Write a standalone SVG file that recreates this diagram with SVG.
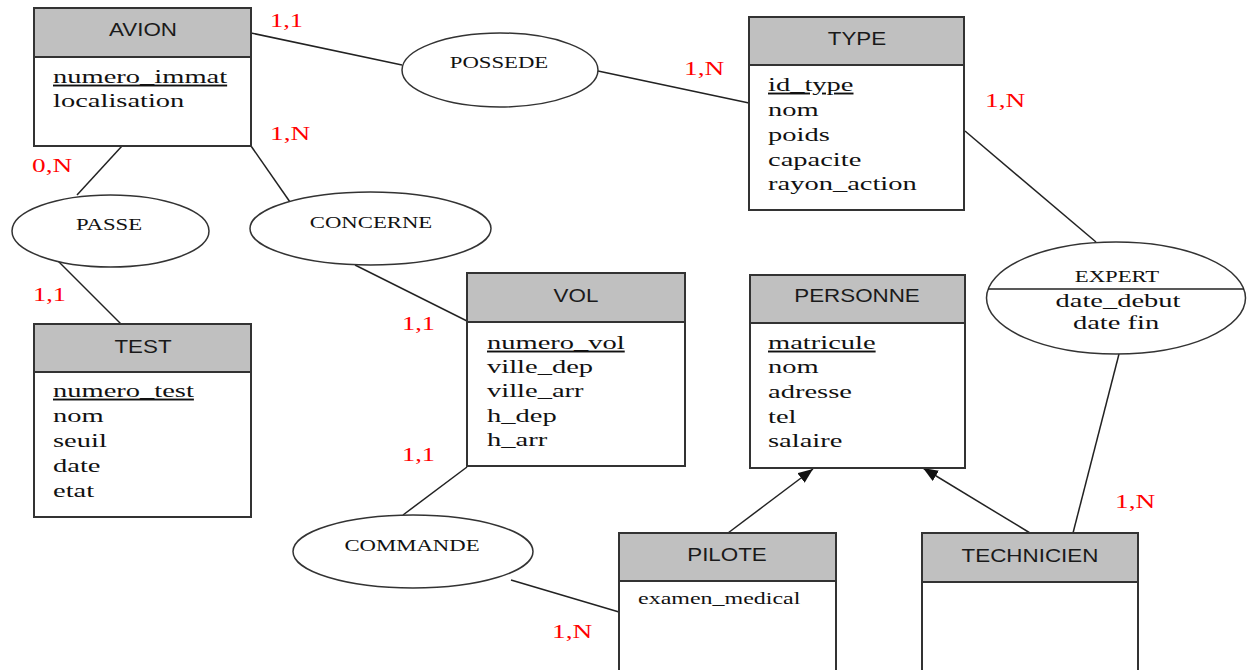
<svg xmlns="http://www.w3.org/2000/svg" width="1247" height="670" viewBox="0 0 1247 670">
<style>
.box{fill:#fff;stroke:#333;stroke-width:2}
.hdr{fill:#c0c0c0;stroke:#333;stroke-width:2}
.ell{fill:#fff;stroke:#333;stroke-width:1.5}
.ln{stroke:#222;stroke-width:1.5;fill:none}
.t{font-family:"Liberation Sans",Arial,sans-serif;font-size:17.5px;fill:#1a1a1a;text-anchor:middle}
.a{font-family:"Liberation Serif","Times New Roman",serif;font-size:19px;fill:#111}
.s{font-family:"Liberation Serif","Times New Roman",serif;font-size:16px;fill:#111}
.k{text-decoration:underline}
.e{font-family:"Liberation Serif","Times New Roman",serif;font-size:16.6px;fill:#111;text-anchor:middle}
.em{font-family:"Liberation Serif","Times New Roman",serif;font-size:19px;fill:#111;text-anchor:middle}
.r{font-family:"Liberation Serif","Times New Roman",serif;font-size:19.5px;fill:#ff0000}
</style>
<defs>
<marker id="arr" markerUnits="userSpaceOnUse" markerWidth="16" markerHeight="14" refX="15" refY="6" orient="auto">
<path d="M0,0 L15,6 L0,12 Z" fill="#111"/>
</marker>
</defs>

<g id="connectors">
<line class="ln" x1="251" y1="33" x2="402" y2="65"/>
<line class="ln" x1="598" y1="71" x2="749" y2="103"/>
<line class="ln" x1="122" y1="146" x2="77" y2="195"/>
<line class="ln" x1="57" y1="260" x2="121" y2="324"/>
<line class="ln" x1="251" y1="146" x2="290" y2="202"/>
<line class="ln" x1="355" y1="265" x2="467" y2="321"/>
<line class="ln" x1="467" y1="467" x2="403" y2="515"/>
<line class="ln" x1="511" y1="580" x2="619" y2="612"/>
<line class="ln" x1="965" y1="131" x2="1096" y2="242"/>
<line class="ln" x1="1119" y1="354" x2="1073" y2="533"/>
<line class="ln" x1="728" y1="533" x2="813" y2="469" marker-end="url(#arr)"/>
<line class="ln" x1="1030" y1="533" x2="923" y2="468" marker-end="url(#arr)"/>
</g>

<g id="labels">
<text class="r" transform="translate(270,27) scale(1.35,1)">1,1</text>
<text class="r" transform="translate(684,75) scale(1.4,1)">1,N</text>
<text class="r" transform="translate(270,140) scale(1.4,1)">1,N</text>
<text class="r" transform="translate(32,172) scale(1.4,1)">0,N</text>
<text class="r" transform="translate(33,301) scale(1.35,1)">1,1</text>
<text class="r" transform="translate(402,330) scale(1.35,1)">1,1</text>
<text class="r" transform="translate(402,461) scale(1.35,1)">1,1</text>
<text class="r" transform="translate(552,638) scale(1.4,1)">1,N</text>
<text class="r" transform="translate(985,107) scale(1.4,1)">1,N</text>
<text class="r" transform="translate(1115,508) scale(1.4,1)">1,N</text>
</g>

<g id="avion">
<rect class="box" x="34" y="8" width="217" height="138"/>
<rect class="hdr" x="34" y="8" width="217" height="49"/>
<text class="t" transform="translate(143,36) scale(1.28,1)">AVION</text>
<text class="a k" transform="translate(53,83) scale(1.5,1)">numero_immat</text>
<text class="a" transform="translate(53,107) scale(1.5,1)">localisation</text>
</g>

<g id="type">
<rect class="box" x="749" y="17" width="215" height="193"/>
<rect class="hdr" x="749" y="17" width="215" height="48"/>
<text class="t" transform="translate(857,45) scale(1.28,1)">TYPE</text>
<text class="a k" transform="translate(768,91) scale(1.5,1)">id_type</text>
<text class="a" transform="translate(768,116) scale(1.5,1)">nom</text>
<text class="a" transform="translate(768,141) scale(1.5,1)">poids</text>
<text class="a" transform="translate(768,166) scale(1.5,1)">capacite</text>
<text class="a" transform="translate(768,190) scale(1.5,1)">rayon_action</text>
</g>

<g id="test">
<rect class="box" x="34" y="324" width="217" height="193"/>
<rect class="hdr" x="34" y="324" width="217" height="48"/>
<text class="t" transform="translate(143,353) scale(1.28,1)">TEST</text>
<text class="a k" transform="translate(53,397) scale(1.5,1)">numero_test</text>
<text class="a" transform="translate(53,422) scale(1.5,1)">nom</text>
<text class="a" transform="translate(53,447) scale(1.5,1)">seuil</text>
<text class="a" transform="translate(53,472) scale(1.5,1)">date</text>
<text class="a" transform="translate(53,497) scale(1.5,1)">etat</text>
</g>

<g id="vol">
<rect class="box" x="467" y="273" width="218" height="193"/>
<rect class="hdr" x="467" y="273" width="218" height="49"/>
<text class="t" transform="translate(576,302) scale(1.28,1)">VOL</text>
<text class="a k" transform="translate(487,349) scale(1.5,1)">numero_vol</text>
<text class="a" transform="translate(487,373) scale(1.5,1)">ville_dep</text>
<text class="a" transform="translate(487,397) scale(1.5,1)">ville_arr</text>
<text class="a" transform="translate(487,422) scale(1.5,1)">h_dep</text>
<text class="a" transform="translate(487,446) scale(1.5,1)">h_arr</text>
</g>

<g id="personne">
<rect class="box" x="750" y="275" width="215" height="193"/>
<rect class="hdr" x="750" y="275" width="215" height="48"/>
<text class="t" transform="translate(857,302) scale(1.28,1)">PERSONNE</text>
<text class="a k" transform="translate(768,349) scale(1.5,1)">matricule</text>
<text class="a" transform="translate(768,373) scale(1.5,1)">nom</text>
<text class="a" transform="translate(768,398) scale(1.5,1)">adresse</text>
<text class="a" transform="translate(768,423) scale(1.5,1)">tel</text>
<text class="a" transform="translate(768,447) scale(1.5,1)">salaire</text>
</g>

<g id="pilote">
<rect class="box" x="619" y="533" width="217" height="150"/>
<rect class="hdr" x="619" y="533" width="217" height="48"/>
<text class="t" transform="translate(727,561) scale(1.28,1)">PILOTE</text>
<text class="s" transform="translate(638,604) scale(1.5,1)">examen_medical</text>
</g>

<g id="technicien">
<rect class="box" x="922" y="533" width="216" height="150"/>
<rect class="hdr" x="922" y="533" width="216" height="49"/>
<text class="t" transform="translate(1030,562) scale(1.28,1)">TECHNICIEN</text>
</g>

<g id="possede">
<ellipse class="ell" cx="500" cy="70" rx="98" ry="37"/>
<text class="e" transform="translate(499,68) scale(1.37,1)">POSSEDE</text>
</g>

<g id="passe">
<ellipse class="ell" cx="110.5" cy="231" rx="98.5" ry="36"/>
<text class="e" transform="translate(109,230) scale(1.37,1)">PASSE</text>
</g>

<g id="concerne">
<ellipse class="ell" cx="370.5" cy="228.5" rx="120.5" ry="36.5"/>
<text class="e" transform="translate(371,228) scale(1.37,1)">CONCERNE</text>
</g>

<g id="commande">
<ellipse class="ell" cx="413" cy="551.5" rx="120" ry="36.5"/>
<text class="e" transform="translate(412,551) scale(1.37,1)">COMMANDE</text>
</g>

<g id="expert">
<ellipse class="ell" cx="1116" cy="298" rx="129.5" ry="56"/>
<line class="ln" x1="988" y1="289" x2="1244" y2="289"/>
<text class="e" transform="translate(1117,282) scale(1.37,1)">EXPERT</text>
<text class="em" transform="translate(1118,307) scale(1.5,1)">date_debut</text>
<text class="em" transform="translate(1116,329) scale(1.5,1)">date fin</text>
</g>
</svg>
